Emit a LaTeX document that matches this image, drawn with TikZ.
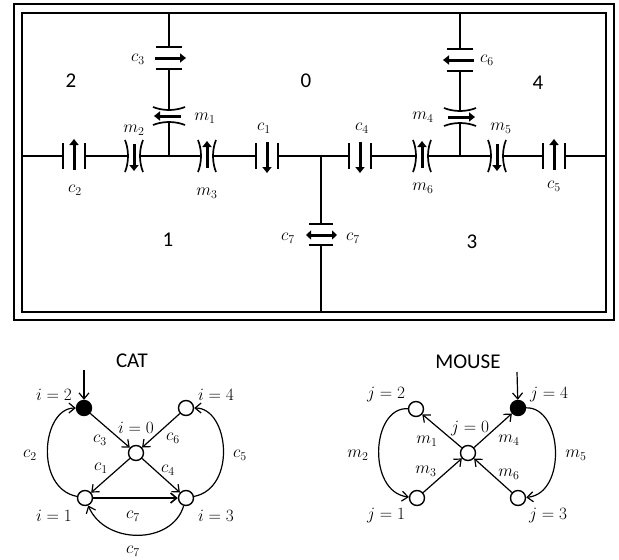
\documentclass[tikz,border=0pt]{standalone}
\usepackage{fontspec}
\setmainfont{Carlito}
\usetikzlibrary{arrows.meta}
\begin{document}
\begin{tikzpicture}[x=1pt, y=-1pt, text centered]
    \tikzset{%
      frame/.style={draw, line width=1.7pt},
      wire/.style={line width=1.5pt},
      plate/.style={line width=1.7pt},
      fat/.style={line width=3pt, -{Triangle[length=6pt, width=9pt]}},
      fatboth/.style={line width=3pt, {Triangle[length=5pt, width=9pt]}-{Triangle[length=5pt, width=9pt]}},
      region/.style={font=\fontsize{21}{23}\selectfont},
      sym/.style={font=\LARGE, inner sep=0pt},
      state/.style={circle, draw, fill=white, line width=1.4pt, minimum size=15pt, inner sep=0pt},
      start/.style={state, fill=black},
      edge/.style={line width=1.2pt, -{Straight Barb[length=6pt, width=10pt]}},
      flat/.pic={
        \coordinate (-a) at (0,-11);
        \coordinate (-b) at (0,11);
        \draw [plate] (-13,-11) -- (13,-11);
        \draw [plate] (-13,11) -- (13,11);
        \draw [fat] (-14,0) -- (17,0);
      },
      bent/.pic={
        \coordinate (-a) at (0,-5);
        \coordinate (-b) at (0,5);
        \draw [plate] (-16,-9) .. controls (-6,-5) and (6,-5) .. (16,-9);
        \draw [plate] (-16,9) .. controls (-6,5) and (6,5) .. (16,9);
        \draw [fat] (-12,0) -- (15,0);
      }
    }
    \useasboundingbox (0,0) rectangle (619,560);

    \node [frame, minimum width=600pt, minimum height=316pt, inner sep=0pt] (Outer) at (314,162) {};
    \node [frame, minimum width=584pt, minimum height=299pt, inner sep=0pt] (Inner) at (314,162.5) {};

    \coordinate (Wleft) at (22,156);
    \coordinate (Wright) at (606,156);
    \coordinate (Wtopa) at (169,13);
    \coordinate (Wtopb) at (460,13);
    \coordinate (Wbot) at (321,312);
    \coordinate (Ja) at (169,156);
    \coordinate (Jb) at (321,156);
    \coordinate (Jc) at (460,156);

    \pic [rotate=90] (C2) at (74,156) {flat};
    \pic [rotate=-90] (M2) at (134,156) {bent};
    \pic [rotate=90] (M3) at (207,156) {bent};
    \pic [rotate=-90] (C1) at (267,156) {flat};
    \pic [rotate=-90] (C4) at (360,156) {flat};
    \pic [rotate=90] (M6) at (422,156) {bent};
    \pic [rotate=-90] (M5) at (497,156) {bent};
    \pic [rotate=90] (C5) at (554,156) {flat};
    \pic (C3) at (169,58) {flat};
    \pic [rotate=180] (M1) at (169,116) {bent};
    \pic [rotate=180] (C6) at (460,60) {flat};
    \pic (M4) at (460,117) {bent};

    \draw [wire] (Wleft) -- (C2-a);
    \draw [wire] (C2-b) -- (M2-b);
    \draw [wire] (M2-a) -- (M3-a);
    \draw [wire] (M3-b) -- (C1-b);
    \draw [wire] (C1-a) -- (C4-b);
    \draw [wire] (C4-a) -- (M6-a);
    \draw [wire] (M6-b) -- (M5-b);
    \draw [wire] (M5-a) -- (C5-a);
    \draw [wire] (C5-b) -- (Wright);
    \draw [wire] (Wtopa) -- (C3-a);
    \draw [wire] (C3-b) -- (M1-b);
    \draw [wire] (M1-a) -- (Ja);
    \draw [wire] (Wtopb) -- (C6-b);
    \draw [wire] (C6-a) -- (M4-a);
    \draw [wire] (M4-b) -- (Jc);

    \coordinate (C7a) at (321,224);
    \coordinate (C7b) at (321,245);
    \draw [plate] (309,224) -- (333,224);
    \draw [plate] (309,245) -- (333,245);
    \draw [fatboth] (306,235) -- (337,235);
    \draw [wire] (Jb) -- (C7a);
    \draw [wire] (C7b) -- (Wbot);

    \node [region] (Rtwo) at (71,81) {2};
    \node [region] (Rzero) at (306,81) {0};
    \node [region] (Rfour) at (538,83) {4};
    \node [region] (Rone) at (168,240) {1};
    \node [region] (Rthree) at (472,242) {3};

    \node [sym] (Lc3) at (138,59) {$c_3$};
    \node [sym] (Lm1) at (205,118) {$m_1$};
    \node [sym] (Lm2) at (134,130) {$m_2$};
    \node [sym] (Lc2) at (75,190) {$c_2$};
    \node [sym] (Lm3) at (207,193) {$m_3$};
    \node [sym] (Lc1) at (264,128) {$c_1$};
    \node [sym] (Lc4) at (362,128) {$c_4$};
    \node [sym] (Lc6) at (487,60) {$c_6$};
    \node [sym] (Lm4) at (423,117) {$m_4$};
    \node [sym] (Lm5) at (501,128) {$m_5$};
    \node [sym] (Lm6) at (423,188) {$m_6$};
    \node [sym] (Lc5) at (554,186) {$c_5$};
    \node [sym] (Lc7a) at (288,238) {$c_7$};
    \node [sym] (Lc7b) at (353,238) {$c_7$};

    \node [region] (Tcat) at (132,361) {CAT};
    \coordinate (Cin) at (84,370);
    \node [start] (Ci2) at (84,408) {};
    \node [state] (Ci4) at (186,408) {};
    \node [state] (Ci0) at (136,453) {};
    \node [state] (Ci1) at (85,498) {};
    \node [state] (Ci3) at (186,498) {};

    \draw [edge] (Cin) -- (Ci2);
    \draw [edge] (Ci2) -- (Ci0);
    \draw [edge] (Ci4) -- (Ci0);
    \draw [edge] (Ci0) -- (Ci1);
    \draw [edge] (Ci0) -- (Ci3);
    \draw [edge, line width=1.6pt] (Ci1) -- (Ci3);
    \draw [edge] (Ci1) .. controls (34,488) and (42,408) .. (Ci2);
    \draw [edge] (Ci3) .. controls (237,488) and (229,408) .. (Ci4);
    \draw [edge] (Ci3) .. controls (172,545) and (105,545) .. (Ci1);

    \node [sym] (Ai2) at (54,395) {$i=2$};
    \node [sym] (Ai4) at (216,395) {$i=4$};
    \node [sym] (Ai0) at (136,428) {$i=0$};
    \node [sym] (Ai1) at (54,516) {$i=1$};
    \node [sym] (Ai3) at (216,516) {$i=3$};
    \node [sym] (Ec2) at (30,455) {$c_2$};
    \node [sym] (Ec3) at (100,440) {$c_3$};
    \node [sym] (Ec6) at (173,438) {$c_6$};
    \node [sym] (Ec1) at (101,468) {$c_1$};
    \node [sym] (Ec4) at (168,470) {$c_4$};
    \node [sym] (Ec5) at (240,455) {$c_5$};
    \node [sym] (Ec7a) at (133,516) {$c_7$};
    \node [sym] (Ec7b) at (133,551) {$c_7$};

    \node [region] (Tmouse) at (468,362) {MOUSE};
    \coordinate (Min) at (517,372);
    \node [state] (Mj2) at (416,409) {};
    \node [start] (Mj4) at (518,408) {};
    \node [state] (Mj0) at (468,453) {};
    \node [state] (Mj1) at (417,498) {};
    \node [state] (Mj3) at (518,498) {};

    \draw [edge] (Min) -- (Mj4);
    \draw [edge] (Mj0) -- (Mj2);
    \draw [edge] (Mj0) -- (Mj4);
    \draw [edge] (Mj1) -- (Mj0);
    \draw [edge] (Mj3) -- (Mj0);
    \draw [edge] (Mj2) .. controls (371,407) and (367,492) .. (Mj1);
    \draw [edge] (Mj4) .. controls (563,407) and (567,494) .. (Mj3);

    \node [sym] (Bj2) at (386,395) {$j=2$};
    \node [sym] (Bj4) at (549,395) {$j=4$};
    \node [sym] (Bj0) at (470,429) {$j=0$};
    \node [sym] (Bj1) at (386,516) {$j=1$};
    \node [sym] (Bj3) at (548,516) {$j=3$};
    \node [sym] (Em2) at (358,455) {$m_2$};
    \node [sym] (Em1) at (427,441) {$m_1$};
    \node [sym] (Em3) at (426,471) {$m_3$};
    \node [sym] (Em4) at (509,440) {$m_4$};
    \node [sym] (Em6) at (509,474) {$m_6$};
    \node [sym] (Em5) at (576,455) {$m_5$};
  \end{tikzpicture}
\end{document}
